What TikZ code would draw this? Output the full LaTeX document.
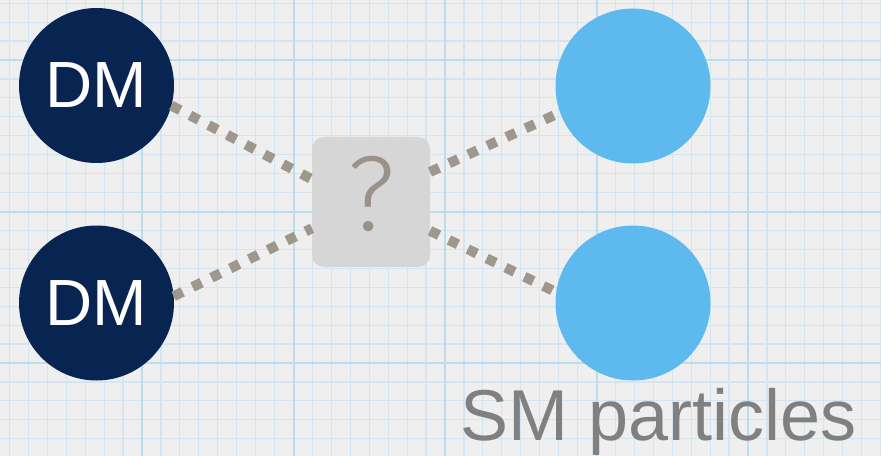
\documentclass[tikz,border=0pt]{standalone}
\usepackage{fontspec}
\setmainfont{Liberation Sans}
\newfontfamily\qfont{Fira Sans Light}
\usepackage{xcolor}
\definecolor{dmNavy}{HTML}{082552}
\definecolor{smBlue}{HTML}{5DB9EE}
\definecolor{qFill}{HTML}{D6D6D6}
\definecolor{qInk}{HTML}{9A9188}
\definecolor{linkGrey}{HTML}{9F978B}
\definecolor{lblGrey}{HTML}{808080}
\definecolor{paperBg}{HTML}{EFEFEF}
\definecolor{gridMinor}{HTML}{D2E5F1}
\definecolor{gridMajor}{HTML}{BCDCEF}
\tikzset{
  dm/.style={circle,fill=dmNavy,text=white,minimum size=116.25pt,inner sep=0pt,
             outer sep=0pt,font=\fontsize{49pt}{49pt}\selectfont},
  sm/.style={circle,fill=smBlue,minimum size=116.25pt,inner sep=0pt,outer sep=0pt},
  qbox/.style={rectangle,rounded corners=9pt,fill=qFill,text=qInk,minimum width=88.5pt,
               minimum height=97.5pt,inner sep=0pt,outer sep=0pt,text depth=13pt,
               font=\qfont\fontsize{80pt}{80pt}\selectfont},
  link/.style={draw=linkGrey,line width=7.5pt,dash pattern=on 7.5pt off 8.25pt},
  lbl/.style={text=lblGrey,inner sep=0pt,font=\fontsize{54pt}{54pt}\selectfont},
  minor/.style={draw=gridMinor,line width=0.9pt},
  major/.style={draw=gridMajor,line width=1.5pt},
}

\begin{document}
\begin{tikzpicture}[x=0.75pt,y=-0.75pt]
  \useasboundingbox (0,0) rectangle (881,456);
  \fill[paperBg] (0,0) rectangle (881,456);
  \begin{scope}
    \clip (0,0) rectangle (881,456);
    \foreach \i in {0,...,47}
      \draw[minor] ({-9.5+\i*18.9375},0) -- ++(0,456);
    \foreach \i in {0,...,24}
      \draw[minor] (0,{3.19+\i*18.9375}) -- ++(881,0);
    \foreach \k in {1,...,5}
      \draw[major] ({-9.5+\k*151.5},0) -- ++(0,456);
    \foreach \k in {0,1,2}
      \draw[major] (0,{60+\k*151.5}) -- ++(881,0);
  \end{scope}

  \node[dm] (dmA) at (96.5,85.5) {DM};
  \node[dm] (dmB) at (96.5,303) {DM};
  \node[sm] (smA) at (633,86) {};
  \node[sm] (smB) at (633,303) {};
  \node[qbox] (q) at (371,202) {?};
  \node[lbl,anchor=base] (parts) at (659,440) {SM particles};

  \draw[link] (dmA.-15) -- (q.159);
  \draw[link] (dmB.5) -- (q.204);
  \draw[link] (q.27) -- (smA.200);
  \draw[link] (q.-26) -- (smB.172);
\end{tikzpicture}
\end{document}
